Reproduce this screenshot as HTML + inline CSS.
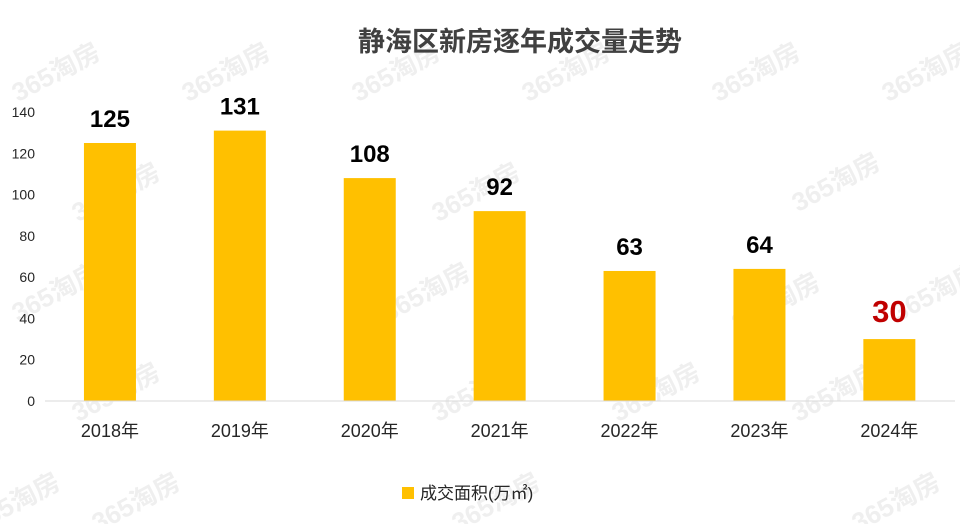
<!DOCTYPE html>
<html><head><meta charset="utf-8">
<style>
html,body{margin:0;padding:0;background:#fff;width:960px;height:524px;overflow:hidden}
svg{display:block;font-family:"Liberation Sans","Noto Sans CJK SC",sans-serif}
</style></head>
<body>
<svg id="chart" width="960" height="524" viewBox="0 0 960 524" xmlns="http://www.w3.org/2000/svg">
<g id="wm"></g>
<text x="520" y="51" text-anchor="middle" font-size="27" font-weight="bold" fill="#404040">静海区新房逐年成交量走势</text>
<g id="yaxis"></g>
<g id="bars"></g>
<g id="xaxis"></g>
<g>
<rect x="402" y="487" width="12" height="12" fill="#FFC000"/>
<text x="420" y="499" font-size="17" fill="#262626">成交面积(万㎡)</text>
</g>
</svg>
<script>
const categories=["2018年","2019年","2020年","2021年","2022年","2023年","2024年"];
const values=[125,131,108,92,63,64,30];
const yTicks=[0,20,40,60,80,100,120,140];
const NS="http://www.w3.org/2000/svg";
const x0=45,band=129.9,barW=52,yBase=401,pxPerUnit=2.064;
function yScale(v){return yBase-v*pxPerUnit;}
function xCenter(i){return x0+band*(i+0.5);}
function mk(tag,attrs,parent,text){const e=document.createElementNS(NS,tag);for(const k in attrs)e.setAttribute(k,attrs[k]);if(text!==undefined)e.textContent=text;parent.appendChild(e);return e;}
const wm=document.getElementById('wm');
[[60,80],[230,80],[400,80],[570,80],[760,80],[930,80],[120,200],[480,200],[840,190],[60,300],[430,300],[780,310],[940,300],[120,400],[480,400],[660,400],[840,400],[140,510],[500,510],[900,510],[20,510]].forEach(p=>{
const t=mk('text',{x:p[0],y:p[1],'font-size':'26','font-weight':'bold',fill:'#efefef','text-anchor':'middle',transform:`rotate(-28 ${p[0]} ${p[1]})`},wm,'365淘房');


});
const ya=document.getElementById('yaxis');
yTicks.forEach(v=>{
const t=mk('text',{x:35,y:yScale(v)+5,'font-size':'14','text-anchor':'end',fill:'#262626'},ya,String(v));


});
const bars=document.getElementById('bars');
values.forEach((v,i)=>{
const cx=xCenter(i);
const r=mk('rect',{x:cx-barW/2,y:yScale(v),width:barW,height:yBase-yScale(v),fill:'#FFC000'},bars);


const last=i===values.length-1;
const t=mk('text',{x:cx,y:yScale(v)-(last?17:16),'font-size':last?'31':'24','font-weight':'bold','text-anchor':'middle',fill:last?'#C00000':'#000'},bars,String(v));


});
const xa=document.getElementById('xaxis');
const ln=mk('line',{x1:x0,x2:955,y1:yBase,y2:yBase,stroke:'#d9d9d9','stroke-width':1},xa);


categories.forEach((c,i)=>{
const t=mk('text',{x:xCenter(i),y:437,'font-size':'18','text-anchor':'middle',fill:'#262626'},xa,c);


});
</script>
</body></html>
